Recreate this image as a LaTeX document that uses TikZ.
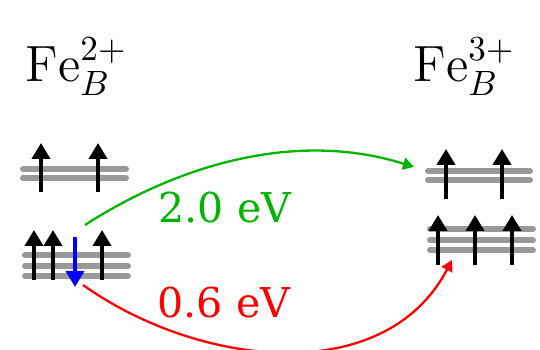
\documentclass[tikz,border=0pt]{standalone}
\usepackage{amsmath}
\usepackage{fontspec}
\usepackage{tikz}
\usetikzlibrary{arrows.meta}
\newfontfamily\evfont{DejaVu Serif}
\definecolor{EVgreen}{HTML}{00B400}
\tikzset{
  level/.style={line width=1.7pt,gray!80,line cap=round},
  spin/.style={line width=1.1pt,-{Triangle[width=1.8mm,length=1.6mm]}},
  hop/.style={line width=0.65pt,-{Triangle[width=1.2mm,length=1.1mm]}},
  ion/.style={inner sep=0pt,anchor=base west,font=\fontsize{14.5}{17}\selectfont},
  gap/.style={inner sep=0pt,anchor=base west,font=\fontsize{11.7}{14}\selectfont\evfont},
}

\begin{document}
\begin{tikzpicture}[x=0.1mm,y=-0.1mm]
\useasboundingbox (0,0) rectangle (540,350);
% ions
\node[ion] (fe2) at (25,82) {$\mathrm{Fe}_B^{2+}$};
\node[ion] (fe3) at (413,82) {$\mathrm{Fe}_B^{3+}$};
% levels
\foreach \y in {169,178} \draw[level] (23,\y) -- (126,\y);
\foreach \y in {255,266,276} \draw[level] (25,\y) -- (128,\y);
\foreach \y in {171,180} \draw[level] (428,\y) -- (530,\y);
\foreach \y in {229,240,250} \draw[level] (430,\y) -- (533,\y);
% spins
\foreach \x in {41,98} \draw[spin] (\x,192) -- (\x,143);
\foreach \x in {34,53,102} \draw[spin] (\x,280) -- (\x,230);
\draw[spin,blue] (75,237) -- (75,287);
\foreach \x in {446,502} \draw[spin] (\x,199) -- (\x,149);
\foreach \x in {438,475,512} \draw[spin] (\x,265) -- (\x,215);
% hopping
\coordinate (g0) at (85,225);
\coordinate (g1) at (414,167);
\coordinate (r0) at (83,285);
\coordinate (r1) at (452,260);
\draw[hop,EVgreen] (g0) .. controls (170,170) and (290,128) .. (g1);
\draw[hop,red] (r0) .. controls (200,368) and (385,388) .. (r1);
\node[gap,text=EVgreen] (e20) at (158,223) {2.0 eV};
\node[gap,text=red] (e06) at (157,318) {0.6 eV};
\end{tikzpicture}
\end{document}
